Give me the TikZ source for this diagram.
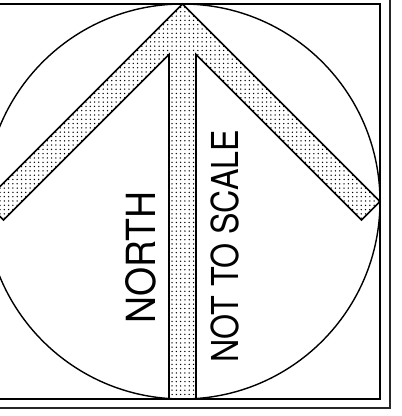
\documentclass[tikz,border=0pt]{standalone}
\usepackage{fontspec}
\setmainfont{TeX Gyre Heros}
\usetikzlibrary{patterns.meta}
\tikzset{
  frame/.style={line width=1.8pt},
  ring/.style={line width=1.4pt},
  arrowbody/.style={line width=1.7pt, line join=miter, pattern={Dots[distance=4.3pt,radius=0.75pt]}},
  label/.style={rotate=90, inner sep=0pt, anchor=center}
}
\begin{document}
\begin{tikzpicture}[x=1pt, y=1pt]
\useasboundingbox (0,0) rectangle (402,416);
\clip (0,0) rectangle (402,416);
% ---------- frames ----------
\draw[frame, black!85] (-25,8) rectangle (390,425);
\draw[frame] (-15,17) rectangle (380,412);
% ---------- circle ----------
\draw[ring] (182.5,214.5) circle (197.5);
% ---------- arrow ----------
\coordinate (tip) at (182.5,412);
\coordinate (rout) at (380,214.5);
\coordinate (rin) at (361.5,196);
\coordinate (rnotch) at (196,361.5);
\coordinate (rfoot) at (196,17);
\coordinate (lfoot) at (169,17);
\coordinate (lnotch) at (169,361.5);
\coordinate (lin) at (3.5,196);
\coordinate (lout) at (-15,214.5);
\draw[arrowbody] (tip) -- (rout) -- (rin) -- (rnotch) -- (rfoot)
      -- (lfoot) -- (lnotch) -- (lin) -- (lout) -- cycle;
% ---------- labels ----------
\node[label] (north) at (140.7,158.5) {\resizebox{132pt}{30pt}{NORTH}};
\node[label] (noscale) at (224.5,169.7) {\resizebox{232.7pt}{27.7pt}{NOT TO SCALE}};
\end{tikzpicture}
\end{document}
